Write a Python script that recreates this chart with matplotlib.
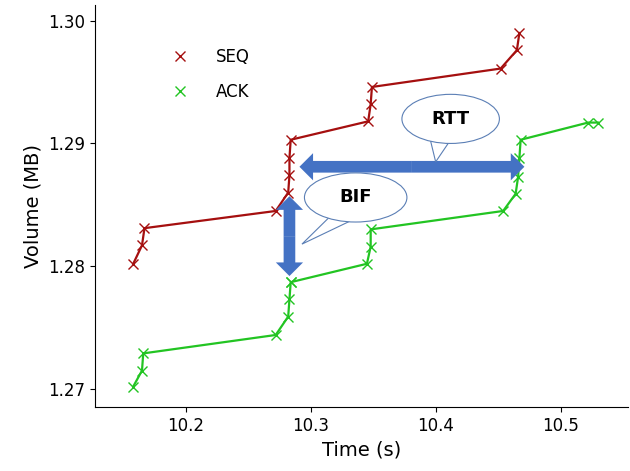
import matplotlib.pyplot as plt
from matplotlib.patches import Ellipse, Polygon
from matplotlib.lines import Line2D

seq_t = [10.158, 10.165, 10.167, 10.272, 10.282, 10.283, 10.283, 10.284,
         10.346, 10.348, 10.349, 10.452, 10.465, 10.467]
seq_v = [1.2802, 1.2817, 1.2831, 1.2845, 1.2860, 1.2874, 1.2888, 1.2903,
         1.2918, 1.2932, 1.2946, 1.2961, 1.2976, 1.2990]
ack_t = [10.158, 10.165, 10.166, 10.272, 10.282, 10.283, 10.284, 10.284,
         10.345, 10.348, 10.348, 10.454, 10.464, 10.466, 10.467, 10.468,
         10.522, 10.530]
ack_v = [1.2702, 1.2715, 1.2729, 1.2744, 1.2759, 1.2773, 1.2787, 1.2787,
         1.2802, 1.2816, 1.2830, 1.2845, 1.2859, 1.2873, 1.2888, 1.2903,
         1.2917, 1.2917]

fig, ax = plt.subplots(figsize=(6.3, 4.71), dpi=100)
fig.subplots_adjust(left=0.15, right=0.997, top=0.99, bottom=0.135)

red, green = '#a50f0f', '#22c422'
ax.plot(seq_t, seq_v, color=red, marker='x', ms=7, lw=1.6)
ax.plot(ack_t, ack_v, color=green, marker='x', ms=7, lw=1.6)

ax.set_xlim(10.127, 10.554)
ax.set_ylim(1.2685, 1.3013)
ax.set_xticks([10.2, 10.3, 10.4, 10.5])
ax.set_yticks([1.27, 1.28, 1.29, 1.30])
ax.set_yticklabels(['1.27', '1.28', '1.29', '1.30'])
ax.tick_params(labelsize=12)
ax.set_xlabel('Time (s)', fontsize=14)
ax.set_ylabel('Volume (MB)', fontsize=14)
for s in ['top', 'right']:
    ax.spines[s].set_visible(False)
handles = [Line2D([], [], color=red, marker='x', ls='none', ms=7),
           Line2D([], [], color=green, marker='x', ls='none', ms=7)]
ax.legend(handles, ['SEQ', 'ACK'], loc='upper left', bbox_to_anchor=(0.1, 0.93),
          frameon=False, fontsize=12, handletextpad=1.2, labelspacing=1.0)

blue = '#4472c4'
astyle = 'simple,head_length=0.7,head_width=1.4,tail_width=0.6'
def double_arrow(p0, p1):
    mid = ((p0[0] + p1[0]) / 2, (p0[1] + p1[1]) / 2)
    for end in (p0, p1):
        ax.annotate('', xy=end, xytext=mid,
                    arrowprops=dict(arrowstyle=astyle, fc=blue, ec='none',
                                    mutation_scale=14, shrinkA=0, shrinkB=0))

double_arrow((10.291, 1.2881), (10.471, 1.2881))
double_arrow((10.283, 1.2792), (10.283, 1.2857))

# callouts
for cx, cy, w, h, tail, txt in [
        (10.412, 1.2920, 0.078, 0.0040, [(10.395, 1.2906), (10.410, 1.2900), (10.400, 1.2885)], 'RTT'),
        (10.336, 1.2856, 0.082, 0.0040, [(10.318, 1.2843), (10.332, 1.2837), (10.293, 1.2818)], 'BIF')]:
    ax.add_patch(Polygon(tail, closed=True, fc='white', ec='#5b7fb5', lw=0.8, zorder=4))
    ax.add_patch(Ellipse((cx, cy), w, h, fc='white', ec='#5b7fb5', lw=0.8, zorder=5))
    ax.text(cx, cy, txt, ha='center', va='center', fontsize=13, fontweight='bold', zorder=6)

fig.savefig('out.png')
